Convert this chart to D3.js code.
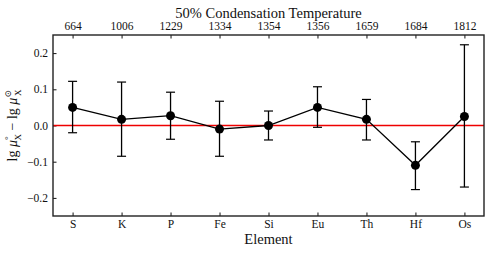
<!DOCTYPE html>
<html>
<head>
<meta charset="utf-8">
<script src="https://cdn.jsdelivr.net/npm/d3@7"></script>
<style>
  body { margin: 0; background: #fff; }
  svg text { font-family: "Liberation Serif", "DejaVu Serif", serif; fill: #111; }
</style>
</head>
<body>
<div id="chart"></div>
<script>
// elements along the bottom, condensation temperatures along the top
var elements = ["S", "K", "P", "Fe", "Si", "Eu", "Th", "Hf", "Os"];
var condTemps = ["664", "1006", "1229", "1334", "1354", "1356", "1659", "1684", "1812"];
var values = [0.050, 0.017, 0.027, -0.010, 0.000, 0.050, 0.017, -0.110, 0.025];
var errHigh = [0.122, 0.120, 0.092, 0.067, 0.040, 0.107, 0.072, -0.045, 0.223];
var errLow = [-0.020, -0.085, -0.038, -0.085, -0.040, -0.005, -0.040, -0.177, -0.170];
var yTicks = [-0.2, -0.1, 0.0, 0.1, 0.2];

var W = 491, H = 253;
var margin = {left: 53, right: 7, top: 35, bottom: 37};
var w = W - margin.left - margin.right,
    h = H - margin.top - margin.bottom;

var svg = d3.select("#chart").append("svg")
    .attr("width", W)
    .attr("height", H)
    .append("g")
    .attr("transform", "translate(" + margin.left + "," + margin.top + ")");

var x = d3.scaleLinear().domain([-0.4, 8.4]).range([0, w]);
var y = d3.scaleLinear().domain([-0.25, 0.25]).range([h, 0]);

var idx = d3.range(elements.length);

// axes, ticks pointing inwards
var xBottom = d3.axisBottom(x).tickValues(idx).tickFormat(function(i) { return elements[i]; })
    .tickSizeInner(-3.5).tickSizeOuter(0).tickPadding(4);
var xTop = d3.axisTop(x).tickValues(idx).tickFormat(function(i) { return condTemps[i]; })
    .tickSizeInner(-3.5).tickSizeOuter(0).tickPadding(5);
var yLeft = d3.axisLeft(y).tickValues(yTicks)
    .tickFormat(function(d) { return d3.format(".1f")(d).replace("-", "\u2212"); })
    .tickSizeInner(-3.5).tickSizeOuter(0).tickPadding(5);

function styleAxis(g) {
    g.select(".domain").remove();
    g.selectAll(".tick line").attr("stroke", "#111").attr("stroke-width", 1);
    g.selectAll("text").attr("font-size", 11.5).attr("fill", "#111")
        .style("font-family", "'Liberation Serif', serif");
}

svg.append("g").attr("transform", "translate(0," + h + ")").call(xBottom).call(styleAxis);
svg.append("g").call(xTop).call(styleAxis);
svg.append("g").call(yLeft).call(styleAxis);

// zero line
svg.append("line")
    .attr("x1", 0).attr("x2", w)
    .attr("y1", y(0)).attr("y2", y(0))
    .attr("stroke", "#ee0000").attr("stroke-width", 1.4);

// error bars
var eb = svg.selectAll(".err").data(idx).enter().append("g").attr("class", "err");
eb.append("line")
    .attr("x1", function(i) { return x(i); }).attr("x2", function(i) { return x(i); })
    .attr("y1", function(i) { return y(errHigh[i]); })
    .attr("y2", function(i) { return y(errLow[i]); })
    .attr("stroke", "#000").attr("stroke-width", 1.3);
[errHigh, errLow].forEach(function(arr) {
    eb.append("line")
        .attr("x1", function(i) { return x(i) - 4.5; }).attr("x2", function(i) { return x(i) + 4.5; })
        .attr("y1", function(i) { return y(arr[i]); })
        .attr("y2", function(i) { return y(arr[i]); })
        .attr("stroke", "#000").attr("stroke-width", 1.2);
});

// connecting line and markers
svg.append("path")
    .datum(idx)
    .attr("fill", "none")
    .attr("stroke", "#000")
    .attr("stroke-width", 1.3)
    .attr("d", d3.line().x(function(i) { return x(i); }).y(function(i) { return y(values[i]); }));

svg.selectAll(".pt").data(idx).enter().append("circle")
    .attr("class", "pt")
    .attr("cx", function(i) { return x(i); })
    .attr("cy", function(i) { return y(values[i]); })
    .attr("r", 4.5)
    .attr("fill", "#000");

// frame
svg.append("rect")
    .attr("width", w).attr("height", h)
    .attr("fill", "none").attr("stroke", "#222").attr("stroke-width", 1.4);

// titles
svg.append("text")
    .attr("x", w / 2).attr("y", -17)
    .attr("text-anchor", "middle")
    .attr("font-size", 14.5)
    .text("50% Condensation Temperature");

svg.append("text")
    .attr("x", w / 2).attr("y", h + 28)
    .attr("text-anchor", "middle")
    .attr("font-size", 14.5)
    .text("Element");

var yl = svg.append("text")
    .attr("text-anchor", "middle")
    .attr("font-size", 14)
    .attr("transform", "translate(-36," + (h / 2) + ")rotate(-90)");
yl.append("tspan").text("lg ");
yl.append("tspan").attr("font-style", "italic").text("\u03bc");
yl.append("tspan").attr("font-size", 9).attr("dy", -6).text("\u00b0");
yl.append("tspan").attr("font-size", 9).attr("dx", -4).attr("dy", 10).text("X");
yl.append("tspan").attr("dy", -4).text(" \u2212 lg ");
yl.append("tspan").attr("font-style", "italic").text("\u03bc");
yl.append("tspan").attr("font-size", 9).attr("dy", -6).text("\u2299");
yl.append("tspan").attr("font-size", 9).attr("dx", -6).attr("dy", 10).text("X");
</script>
</body>
</html>
